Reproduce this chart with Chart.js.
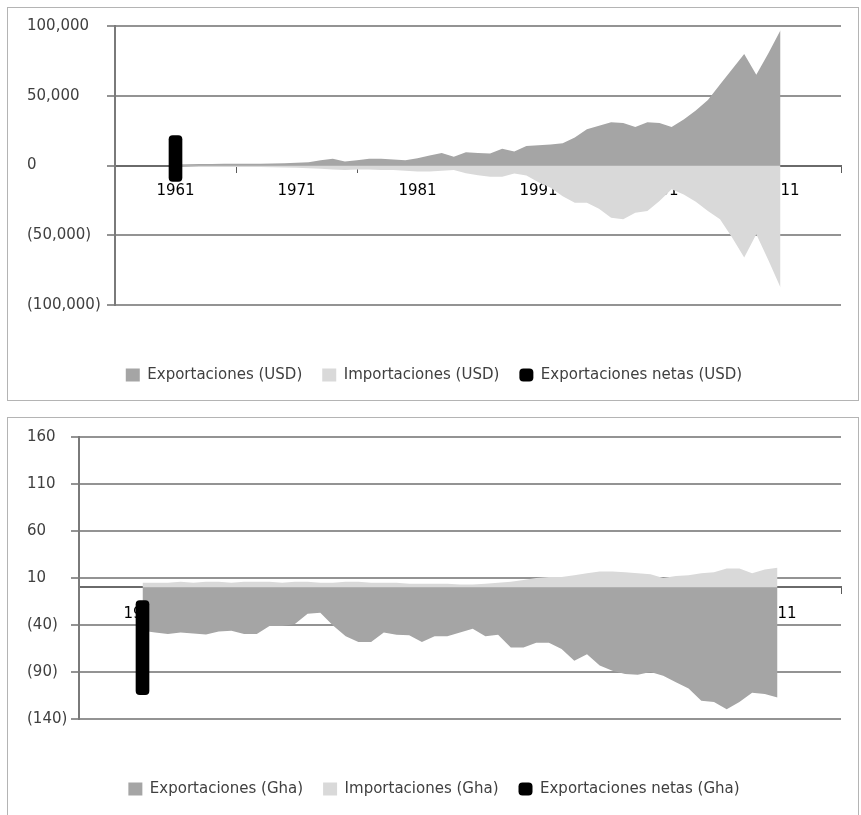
<!DOCTYPE html>
<html lang="es">
<head>
  <meta charset="UTF-8">
  <title>Exportaciones e importaciones (USD y Gha)</title>
  <script src="https://cdn.jsdelivr.net/npm/chart.js@4"></script>
  <style>
    html, body { margin: 0; padding: 0; background: #fff; overflow: hidden; }
    .box { position: absolute; left: 7px; width: 850px; border: 1px solid #b4b4b4; background: #fff; }
    #box1 { top: 7px; height: 392px; }
    #box2 { top: 417px; height: 410px; }
    canvas { display: block; }
  </style>
</head>
<body>
  <div class="box" id="box1"><canvas id="usdChart" width="850" height="392"></canvas></div>
  <div class="box" id="box2"><canvas id="ghaChart" width="850" height="397"></canvas></div>

  <script>
    // categorias del eje (el eje va de 1956 a 2016, los datos de 1961 a 2011)
    const years = [1956, 1957, 1958, 1959, 1960,
      1961, 1962, 1963, 1964, 1965, 1966, 1967, 1968, 1969, 1970,
      1971, 1972, 1973, 1974, 1975, 1976, 1977, 1978, 1979, 1980,
      1981, 1982, 1983, 1984, 1985, 1986, 1987, 1988, 1989, 1990,
      1991, 1992, 1993, 1994, 1995, 1996, 1997, 1998, 1999, 2000,
      2001, 2002, 2003, 2004, 2005, 2006, 2007, 2008, 2009, 2010,
      2011, 2012, 2013, 2014, 2015, 2016];
    const firstYear = 1961;

    // USD, 1961-2011
    const exportsUSD = [800, 900, 1000, 1100, 1200, 1300, 1200, 1300, 1500, 1700,
      1900, 2400, 3800, 4800, 2900, 3800, 4800, 4800, 4300, 3800,
      5200, 7100, 9000, 6200, 9500, 9000, 8600, 12000, 10000, 14000,
      14500, 15000, 16000, 20000, 26000, 28500, 31000, 30500, 27600, 31000,
      30500, 27600, 33000, 39500, 47000, 58000, 69000, 80000, 65000, 80500,
      97000];
    const importsUSD = [-800, -900, -1000, -1000, -1100, -1100, -1000, -1100, -1200, -1400,
      -1600, -1900, -2400, -2900, -3300, -2900, -2900, -3300, -3300, -3800,
      -4300, -4300, -3800, -3300, -5500, -7000, -8000, -8000, -5700, -7100,
      -12000, -16000, -22000, -26700, -26700, -31000, -37400, -38600, -33800, -32600,
      -25500, -17000, -20700, -26000, -32600, -38600, -51700, -66000, -49300, -68000,
      -87400];
    const netUSD = [-11400, 21400];   // barra negra en 1961

    // Gha, 1961-2011
    const exportsGha = [-46, -48, -49.5, -48, -49, -50, -47, -46, -49.5, -49.5,
      -41, -41, -39, -28, -27, -40.5, -52, -58, -58, -48,
      -50.5, -51, -58, -52, -52, -48, -44, -52, -50.5, -64,
      -64, -59, -59, -65.5, -78, -71, -83, -88.6, -92, -93,
      -90, -94, -101, -107.5, -120.6, -122, -129.5, -122, -112, -113.5,
      -117];
    const importsGha = [5, 5, 5, 6, 5, 6, 6, 5, 6, 6,
      6, 5, 6, 6, 5, 5, 6, 6, 5, 5,
      5, 4, 4, 4, 4, 3, 3, 4, 5, 6,
      8, 10, 11, 11, 13, 15, 17, 17, 16, 15,
      14, 10, 12, 13, 15, 16, 20, 20, 15, 19,
      21];
    const netGha = [-114, -14];

    const usdTicks = [-100000, -50000, 0, 50000, 100000];
    const ghaTicks = [-140, -90, -40, 10, 60, 110, 160];

    function placeSeries(values) {
      const out = years.map(() => null);
      const start = years.indexOf(firstYear);
      values.forEach((v, i) => { out[start + i] = v; });
      return out;
    }

    function placeBar(range) {
      const out = years.map(() => null);
      out[years.indexOf(firstYear)] = range;
      return out;
    }

    function fmt(v) {
      const s = Math.abs(v).toLocaleString('en-US');
      return v < 0 ? '(' + s + ')' : s;
    }

    const tickColor = ctx => ((years[ctx.index] - 1956) % 10 === 0) ? '#5a5a5a' : 'rgba(0,0,0,0)';

    function buildChart(id, cfg) {
      const ctx = document.getElementById(id).getContext('2d');
      return new Chart(ctx, {
        type: 'line',
        data: {
          labels: years,
          datasets: [
            {
              label: cfg.names[0],
              data: placeSeries(cfg.exp),
              backgroundColor: '#a5a5a5',
              borderColor: 'rgba(0,0,0,0)',
              borderWidth: 0,
              pointRadius: 0,
              fill: 'origin',
              order: 2
            },
            {
              label: cfg.names[1],
              data: placeSeries(cfg.imp),
              backgroundColor: '#d9d9d9',
              borderColor: 'rgba(0,0,0,0)',
              borderWidth: 0,
              pointRadius: 0,
              fill: 'origin',
              order: 1
            },
            {
              type: 'bar',
              label: cfg.names[2],
              data: placeBar(cfg.net),
              backgroundColor: '#000',
              barThickness: 13,
              borderRadius: 4,
              borderSkipped: false,
              order: 0
            }
          ]
        },
        options: {
          responsive: false,
          animation: false,
          devicePixelRatio: 1,
          layout: { padding: cfg.padding },
          plugins: {
            tooltip: { enabled: false },
            legend: {
              position: 'bottom',
              title: { display: true, text: '', font: { size: 10, lineHeight: 1 }, padding: { top: cfg.legendGap, bottom: 0 } },
              labels: {
                font: { family: 'DejaVu Sans', size: 15 },
                color: '#404040',
                boxWidth: 14,
                boxHeight: 13,
                padding: 20,
                useBorderRadius: true,
                sort: (a, b) => a.datasetIndex - b.datasetIndex
              }
            }
          },
          scales: {
            x: {
              type: 'category',
              position: { y: 0 },
              offset: false,
              border: { color: '#6a6a6a', width: 2 },
              grid: { drawOnChartArea: false, offset: false, tickLength: 6, color: tickColor, tickColor: tickColor },
              ticks: {
                autoSkip: false,
                maxRotation: 0,
                minRotation: 0,
                padding: cfg.xPad,
                color: '#000',
                font: { family: 'DejaVu Sans', size: 15 },
                callback: (val, i) => ((years[i] - firstYear) % 10 === 0 && years[i] <= 2011) ? String(years[i]) : ''
              }
            },
            y: {
              min: cfg.ticks[0],
              max: cfg.ticks[cfg.ticks.length - 1],
              border: { color: '#7a7a7a', width: 2 },
              grid: { color: '#939393', lineWidth: 2, tickLength: 8 },
              ticks: {
                stepSize: cfg.ticks[1] - cfg.ticks[0],
                crossAlign: 'far',
                color: '#404040',
                font: { family: 'DejaVu Sans', size: 15 },
                callback: v => fmt(v)
              },
              afterFit: s => { s.width = cfg.yWidth; }
            }
          }
        }
      });
    }

    buildChart('usdChart', {
      names: ['Exportaciones (USD)', 'Importaciones (USD)', 'Exportaciones netas (USD)'],
      exp: exportsUSD, imp: importsUSD, net: netUSD, ticks: usdTicks,
      padding: { left: 19, right: 17, top: 18, bottom: 7.5 },
      yWidth: 88, xPad: 11, legendGap: 32.5
    });

    buildChart('ghaChart', {
      names: ['Exportaciones (Gha)', 'Importaciones (Gha)', 'Exportaciones netas (Gha)'],
      exp: exportsGha, imp: importsGha, net: netGha, ticks: ghaTicks,
      padding: { left: 19, right: 17, top: 19, bottom: 8.5 },
      yWidth: 52, xPad: 12, legendGap: 32.5
    });
  </script>
</body>
</html>
